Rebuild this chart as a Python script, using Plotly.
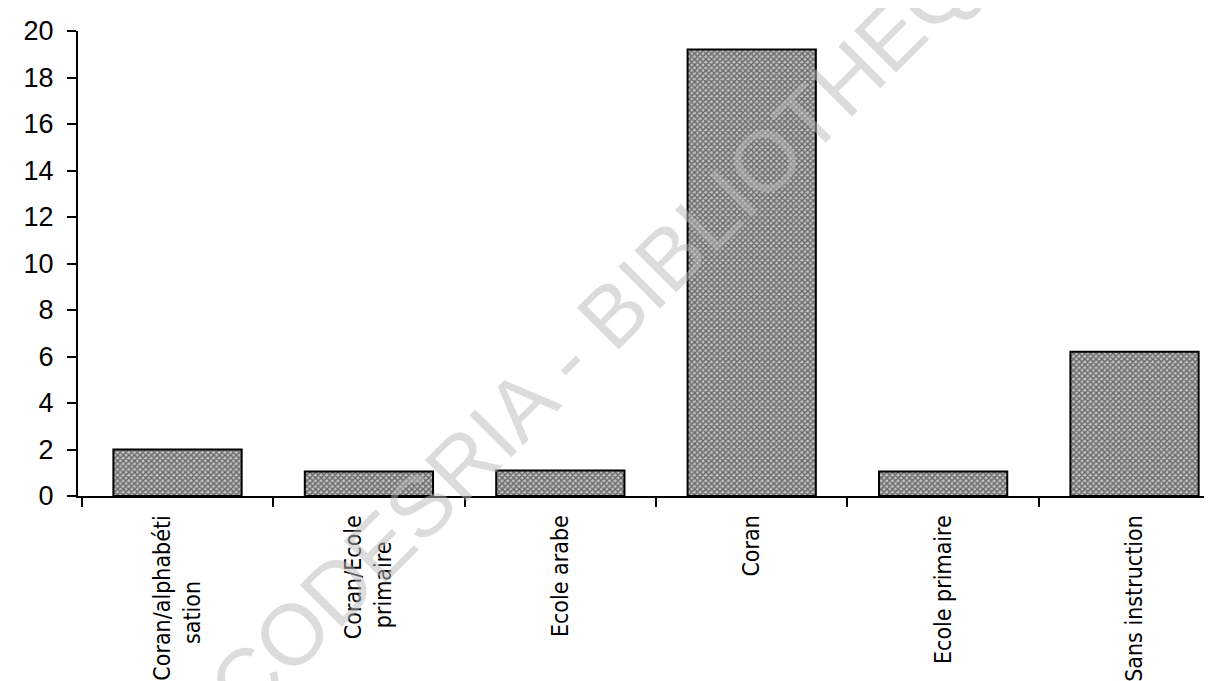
import plotly.graph_objects as go

categories = [
    "Coran/alphabéti<br>sation" + "\u00a0" * 10,
    "Coran/Ecole<br>primaire" + "\u00a0" * 4,
    "Ecole arabe",
    "Coran",
    "Ecole primaire",
    "Sans instruction",
]
values = [2.0, 1.05, 1.1, 19.2, 1.05, 6.2]
y_ticks = [0, 2, 4, 6, 8, 10, 12, 14, 16, 18, 20]

fig = go.Figure()
fig.add_trace(go.Bar(
    x=categories,
    y=values,
    width=0.67,
    marker=dict(
        color="#8a8a8a",
        line=dict(color="black", width=2),
        pattern=dict(shape="x", size=4, solidity=0.6, fgcolor="#0a0a0a", bgcolor="#c4c4c4"),
    ),
))

fig.add_annotation(
    text="CODESRIA - BIBLIOTHEQUE",
    xref="paper", yref="paper",
    x=(625 - 70) / (1205 - 70), y=(497 - 290) / (497 - 23),
    showarrow=False, textangle=-45,
    font=dict(family="Liberation Sans, Arial, sans-serif", size=86, color="rgba(185,185,185,0.5)"),
)

fig.update_layout(
    width=1212, height=681,
    margin=dict(l=70, r=7, t=23, b=184),
    paper_bgcolor="white", plot_bgcolor="white",
    showlegend=False,
    bargap=0.33,
)
fig.update_xaxes(
    range=[-0.52, 5.41],
    showline=True, linecolor="black", linewidth=2,
    ticks="outside", tickson="boundaries", ticklen=9, tickwidth=1.5, tickcolor="black",
    tickangle=-90, ticklabelstandoff=8,
    tickfont=dict(family="Liberation Sans Narrow, DejaVu Sans Condensed, Arial Narrow, sans-serif", size=23, color="black"),
    showgrid=False, zeroline=False,
)
fig.update_yaxes(
    range=[0, 20], tickvals=y_ticks,
    showline=True, linecolor="black", linewidth=2,
    ticks="outside", ticklen=9, tickwidth=1.5, tickcolor="black",
    ticklabelstandoff=8,
    tickfont=dict(family="Liberation Sans, Arial, sans-serif", size=27, color="black"),
    showgrid=False, zeroline=False,
)

fig.write_html("out.html")
